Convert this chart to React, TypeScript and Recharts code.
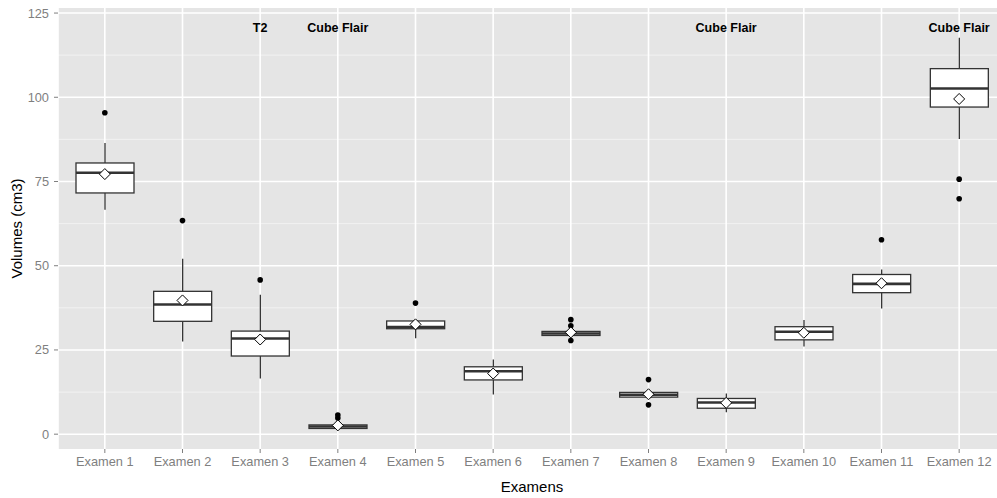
import React from 'react';
import { ComposedChart, Bar, Scatter, XAxis, YAxis, CartesianGrid, Label } from 'recharts';

const categories = ['Examen 1', 'Examen 2', 'Examen 3', 'Examen 4', 'Examen 5', 'Examen 6', 'Examen 7', 'Examen 8', 'Examen 9', 'Examen 10', 'Examen 11', 'Examen 12'];
const whiskerLow = [66.6, 27.5, 16.5, 1.5, 28.5, 11.8, 29.3, 11.0, 6.5, 26.0, 37.3, 87.6];
const q1 = [71.6, 33.5, 23.2, 1.7, 31.3, 16.1, 29.3, 11.0, 7.7, 28.0, 42.0, 97.1];
const medians = [77.6, 38.5, 28.4, 2.3, 31.8, 18.7, 29.9, 11.7, 9.4, 30.4, 44.6, 102.6];
const q3 = [80.5, 42.4, 30.6, 2.75, 33.6, 20.0, 30.5, 12.4, 10.6, 31.9, 47.4, 108.5];
const whiskerHigh = [86.4, 52.1, 41.4, 3.0, 33.6, 22.2, 30.5, 12.4, 12.1, 33.9, 48.9, 117.7];
const means = [77.2, 39.7, 28.1, 2.6, 32.6, 18.0, 30.2, 11.85, 9.3, 30.1, 44.8, 99.5];

// outliers: up to three per category (null = none)
const outlierA = [95.4, 63.4, 45.8, 5.7, 38.9, null, 34.0, 16.2, null, null, 57.7, 75.7];
const outlierB = [null, null, null, 4.8, null, null, 32.2, 8.7, null, null, null, 69.9];
const outlierC = [null, null, null, null, null, null, 27.8, null, null, null, null, null];

const annotationTexts = [null, null, 'T2', 'Cube Flair', null, null, null, null, 'Cube Flair', null, null, 'Cube Flair'];
const annotationY = 120.6;

const yTicks = [0, 25, 50, 75, 100, 125];
const yMinor = [12.5, 37.5, 62.5, 87.5, 112.5];

const data = categories.map((name, i) => ({
  name,
  whisker: [whiskerLow[i], whiskerHigh[i]],
  box: [q1[i], q3[i]],
  q1: q1[i],
  q3: q3[i],
  median: medians[i],
  mean: means[i],
  oA: outlierA[i],
  oB: outlierB[i],
  oC: outlierC[i],
  ann: annotationTexts[i] ? annotationY : null,
  annText: annotationTexts[i],
}));

const FONT = '"Liberation Sans", Arial, Helvetica, sans-serif';

const WhiskerShape = (props: any) => {
  const { x, y, width, height } = props;
  const top = Math.min(y, y + height);
  const bot = Math.max(y, y + height);
  const cx = x + width / 2;
  return <line x1={cx} x2={cx} y1={top} y2={bot} stroke="#333333" strokeWidth={1.3} />;
};

const BoxShape = (props: any) => {
  const { x, y, width, height, payload } = props;
  const top = Math.min(y, y + height);
  const h = Math.max(Math.abs(height), 0.5);
  const span = payload.q3 - payload.q1;
  const my = span > 0 ? top + (h * (payload.q3 - payload.median)) / span : top + h / 2;
  return (
    <g>
      <rect x={x} y={top} width={width} height={h} fill="#ffffff" stroke="#333333" strokeWidth={1.3} />
      <line x1={x} x2={x + width} y1={my} y2={my} stroke="#333333" strokeWidth={2.6} />
    </g>
  );
};

const valid = (cx: any, cy: any) => Number.isFinite(cx) && Number.isFinite(cy);

const makeOutlier = (key: string) => (props: any) => {
  const { cx, cy, payload } = props;
  if (!payload || payload[key] == null || !valid(cx, cy)) return <g />;
  return <circle cx={cx} cy={cy} r={2.8} fill="#000000" />;
};
const OutlierA = makeOutlier('oA');
const OutlierB = makeOutlier('oB');
const OutlierC = makeOutlier('oC');

const MeanShape = (props: any) => {
  const { cx, cy } = props;
  if (!valid(cx, cy)) return <g />;
  const r = 5.5;
  return (
    <polygon
      points={`${cx},${cy - r} ${cx + r},${cy} ${cx},${cy + r} ${cx - r},${cy}`}
      fill="#ffffff"
      stroke="#000000"
      strokeWidth={1}
    />
  );
};

const AnnotationShape = (props: any) => {
  const { cx, cy, payload } = props;
  if (!payload || !payload.annText || !valid(cx, cy)) return <g />;
  return (
    <text x={cx} y={cy} textAnchor="middle" dominantBaseline="central" fontFamily={FONT} fontWeight="bold" fontSize={12.5} fill="#000000">
      {payload.annText}
    </text>
  );
};

export default function App() {
  return (
    <div style={{ position: 'absolute', left: 0, top: 0, width: 997, height: 498, overflow: 'hidden', background: '#ffffff' }}>
      <ComposedChart
        width={1010}
        height={498}
        data={data}
        margin={{ top: 8, right: 4, left: 0, bottom: 0 }}
        barGap={0}
      >
        <CartesianGrid
          fill="#E5E5E5"
          stroke="#F2F2F2"
          strokeWidth={1}
          vertical={false}
          horizontalValues={yMinor}
        />
        <CartesianGrid stroke="#FFFFFF" strokeWidth={1.6} horizontalValues={yTicks} />
        <XAxis
          xAxisId={0}
          dataKey="name"
          type="category"
          padding={{ left: 8, right: 8 }}
          height={49}
          axisLine={false}
          tickLine={{ stroke: '#7F7F7F' }}
          tickSize={4}
          tickMargin={4}
          tick={{ fill: '#7F7F7F', fontSize: 12.8, fontFamily: FONT }}
          interval={0}
        >
          <Label value="Examens" position="insideBottom" offset={6} style={{ fill: '#000000', fontSize: 15, fontFamily: FONT }} />
        </XAxis>
        <XAxis xAxisId="w" dataKey="name" type="category" padding={{ left: 8, right: 8 }} hide />
        <XAxis xAxisId="b" dataKey="name" type="category" padding={{ left: 8, right: 8 }} hide />
        <YAxis
          type="number"
          domain={[-4.4, 126.5]}
          allowDataOverflow
          ticks={yTicks}
          width={58}
          axisLine={false}
          tickLine={{ stroke: '#7F7F7F' }}
          tickSize={4}
          tickMargin={5}
          tick={{ fill: '#7F7F7F', fontSize: 12.8, fontFamily: FONT }}
        >
          <Label value="Volumes (cm3)" angle={-90} position="insideLeft" offset={17} style={{ fill: '#000000', fontSize: 15, fontFamily: FONT, textAnchor: 'middle' }} />
        </YAxis>
        <Bar xAxisId="w" dataKey="whisker" barSize={58} shape={<WhiskerShape />} isAnimationActive={false} />
        <Bar xAxisId="b" dataKey="box" barSize={58} shape={<BoxShape />} isAnimationActive={false} />
        <Scatter xAxisId={0} dataKey="oA" shape={<OutlierA />} isAnimationActive={false} />
        <Scatter xAxisId={0} dataKey="oB" shape={<OutlierB />} isAnimationActive={false} />
        <Scatter xAxisId={0} dataKey="oC" shape={<OutlierC />} isAnimationActive={false} />
        <Scatter xAxisId={0} dataKey="mean" shape={<MeanShape />} isAnimationActive={false} />
        <Scatter xAxisId={0} dataKey="ann" shape={<AnnotationShape />} isAnimationActive={false} />
      </ComposedChart>
    </div>
  );
}
